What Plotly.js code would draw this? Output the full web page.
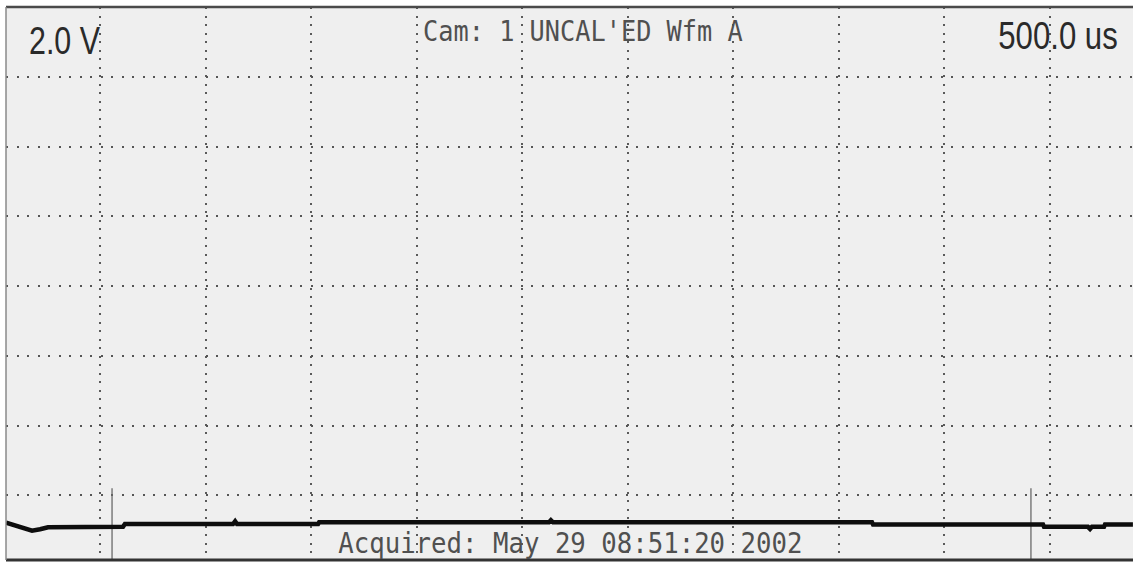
<!DOCTYPE html>
<html>
<head>
<meta charset="utf-8">
<script src="https://cdn.plot.ly/plotly-3.0.1.min.js"></script>
<style>
  html, body { margin: 0; padding: 0; background: #ffffff; }
  #chart { width: 1133px; height: 563px; }
</style>
</head>
<body>
<div id="chart"></div>
<script>
// Waveform A: time (us, 500 us/div) and voltage (V, 2.0 V/div)
const timeUs = [-445, -403, -365, -322, -284, -246, 109, 118, 630, 640, 649, 1033, 1038,
                2127, 2136, 2146, 3657, 3662, 4467, 4472, 4680, 4690, 4699, 4756, 4761, 4893];
const voltage = [-6.78, -6.85, -6.93, -7.01, -6.97, -6.91, -6.90, -6.82, -6.82, -6.74, -6.82, -6.82, -6.77,
                 -6.77, -6.71, -6.77, -6.77, -6.83, -6.83, -6.90, -6.90, -6.96, -6.90, -6.90, -6.83, -6.83];

// Cursor markers (time positions, us) and their vertical extent (V)
const cursorTimes = [57, 4410];
const cursorSpan = [-5.79, -7.85];

// Text labels
const voltsPerDiv = "2.0 V";
const timePerDiv = "500.0 us";
const headerText = "Cam: 1 UNCAL'ED Wfm A";
const acquiredText = "Acquired: May 29 08:51:20 2002";

const xRange = [-445.3, 4893.4];
const yRange = [-7.85, 8.0];

const traces = [];
cursorTimes.forEach(function (t) {
  traces.push({
    x: [t, t], y: cursorSpan, mode: 'lines', hoverinfo: 'skip',
    line: { color: '#6a6a6a', width: 1.3 }, showlegend: false
  });
});
traces.push({
  x: timeUs, y: voltage, mode: 'lines', hoverinfo: 'skip',
  line: { color: '#0d0d0d', width: 4.5 }, showlegend: false
});

const sans = '"Liberation Sans", Arial, sans-serif';
const mono = '"DejaVu Sans Mono", "Liberation Mono", monospace';

const layout = {
  width: 1133, height: 563,
  margin: { l: 6, r: 0, t: 7, b: 3, pad: 0 },
  paper_bgcolor: '#ffffff',
  plot_bgcolor: '#efefef',
  showlegend: false,
  xaxis: {
    range: xRange, tick0: 0, dtick: 500,
    showgrid: true, gridcolor: '#5a5a5a', gridwidth: 2, griddash: '2px,6.5px',
    zeroline: false, showticklabels: false, ticks: '', showline: false, fixedrange: true
  },
  yaxis: {
    range: yRange, tick0: 0, dtick: 2,
    showgrid: true, gridcolor: '#555555', gridwidth: 2, griddash: '2px,8.5px',
    zeroline: false, showticklabels: false, ticks: '', showline: false, fixedrange: true
  },
  shapes: [
    { type: 'line', xref: 'paper', yref: 'paper', x0: 0, x1: 1, y0: 1, y1: 1,
      line: { color: '#4a4a4a', width: 2.5 } },
    { type: 'line', xref: 'paper', yref: 'paper', x0: 0, x1: 1, y0: 0, y1: 0,
      line: { color: '#333333', width: 3 } },
    { type: 'line', xref: 'paper', yref: 'paper', x0: 0, x1: 0, y0: 0, y1: 1,
      line: { color: '#8a8a8a', width: 1.5 } }
  ],
  annotations: [
    { text: voltsPerDiv, xref: 'paper', yref: 'paper', x: 0.0186, y: 0.9385,
      xanchor: 'left', yanchor: 'middle', showarrow: false,
      font: { family: sans, size: 38, color: '#2a2a2a' } },
    { text: timePerDiv, xref: 'paper', yref: 'paper', x: 0.9885, y: 0.947,
      xanchor: 'right', yanchor: 'middle', showarrow: false,
      font: { family: sans, size: 38, color: '#2a2a2a' } },
    { text: headerText, xref: 'paper', yref: 'paper', x: 0.512, y: 0.9566,
      xanchor: 'center', yanchor: 'middle', showarrow: false,
      font: { family: mono, size: 27.5, color: '#505050' } },
    { text: acquiredText, xref: 'paper', yref: 'paper', x: 0.5005, y: 0.0307,
      xanchor: 'center', yanchor: 'middle', showarrow: false,
      font: { family: mono, size: 27.5, color: '#505050' } }
  ]
};

// horizontal condensing of the label text (the scope uses narrow glyphs)
const condense = [
  { sx: 0.80, anchor: 'left' },
  { sx: 0.82, anchor: 'right' },
  { sx: 0.92, anchor: 'center' },
  { sx: 0.935, anchor: 'center' }
];

Plotly.newPlot('chart', traces, layout, { staticPlot: true, displayModeBar: false }).then(function (gd) {
  const texts = gd.querySelectorAll('.annotation .annotation-text');
  texts.forEach(function (el, i) {
    const c = condense[i];
    if (!c) return;
    const bb = el.getBBox();
    let ox = bb.x;
    if (c.anchor === 'right') ox = bb.x + bb.width;
    if (c.anchor === 'center') ox = bb.x + bb.width / 2;
    el.setAttribute('transform',
      'translate(' + ox + ',0) scale(' + c.sx + ',1) translate(' + (-ox) + ',0)');
  });
});
</script>
</body>
</html>
